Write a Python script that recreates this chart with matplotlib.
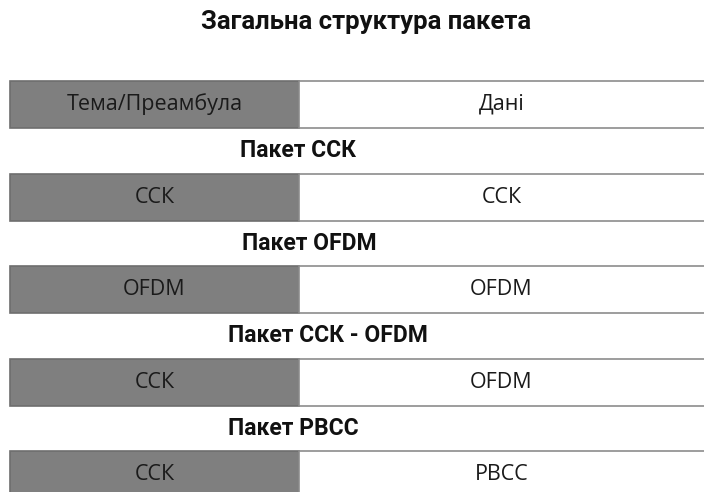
import matplotlib
matplotlib.use("Agg")
import matplotlib.pyplot as plt
from matplotlib.patches import Rectangle

title = "Загальна структура пакета"
packet_names = ["", "Пакет ССК", "Пакет OFDM", "Пакет ССК - OFDM", "Пакет PBCC"]
preamble_labels = ["Тема/Преамбула", "ССК", "OFDM", "ССК", "ССК"]
data_labels = ["Дані", "ССК", "OFDM", "OFDM", "PBCC"]
preamble_share = [0.415, 0.415, 0.415, 0.415, 0.415]

W, H = 704, 492
fig = plt.figure(figsize=(W / 100, H / 100), dpi=100)
ax = fig.add_axes([0, 0, 1, 1])
ax.set_xlim(0, W)
ax.set_ylim(H, 0)
ax.axis("off")

font = "Open Sans"
bold_font = "Roboto"
x0, x1 = 10, W + 2
row_top0, pitch, row_h = 81, 92.6, 47
name_x = [0, 298, 309, 328, 293]

fig.text(366 / W, 1 - 22 / H, title, ha="center", va="center",
         fontsize=18.5, fontweight="bold", family=bold_font, color="#111111")

for i, (pl, dl, sh) in enumerate(zip(preamble_labels, data_labels, preamble_share)):
    top = row_top0 + i * pitch
    split = x0 + (x1 - x0) * sh
    ax.add_patch(Rectangle((x0, top), split - x0, row_h, facecolor="#7f7f7f",
                           edgecolor="#6e6e6e", linewidth=1.2))
    ax.add_patch(Rectangle((split, top), x1 - split, row_h, facecolor="white",
                           edgecolor="#8c8c8c", linewidth=1.2))
    cy = top + row_h / 2
    ax.text((x0 + split) / 2, cy, pl, ha="center", va="center", fontsize=15.5,
            family=font, color="#1a1a1a")
    ax.text((split + W) / 2, cy, dl, ha="center", va="center", fontsize=15.5,
            family=font, color="#1a1a1a")
    if packet_names[i]:
        ax.text(name_x[i], top - (pitch - row_h) / 2, packet_names[i],
                ha="center", va="center", fontsize=16.5,
                fontweight="bold", family=bold_font, color="#111111")

fig.savefig("out.png", dpi=100)
